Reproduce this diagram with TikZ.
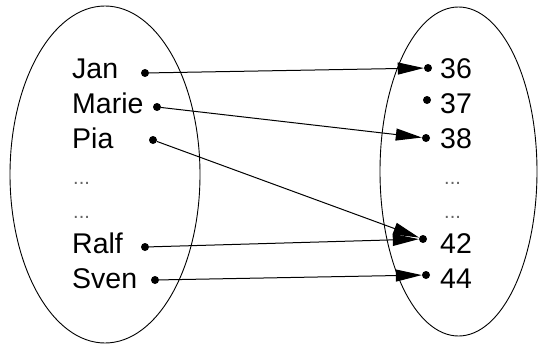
\documentclass[tikz,border=0pt]{standalone}
\usepackage{fontspec}
\setmainfont{Liberation Sans}
\usetikzlibrary{arrows.meta}
\begin{document}
\begin{tikzpicture}[x=1pt,y=-1pt,
  setline/.style={draw=black,line width=0.9pt},
  lbl/.style={anchor=base west,inner sep=0pt,font=\fontsize{28.5}{30}\selectfont,text=black},
  ell/.style={anchor=base west,inner sep=0pt,font=\fontsize{20}{22}\selectfont,text=black!60},
  pt/.style={circle,fill=black,inner sep=0pt,minimum size=8pt},
  mapto/.style={draw=black,line width=1pt,-{Triangle[length=26pt,width=12pt]}}]
\useasboundingbox (0,0) rectangle (538,345);
% sets
\draw[setline] (105,174.5) ellipse [x radius=95,y radius=168.5];
\draw[setline] (458.5,171.5) ellipse [x radius=78.5,y radius=164.5];
% left labels
\node[lbl] (jan) at (72,78) {Jan};
\node[lbl] (marie) at (72,113) {Marie};
\node[lbl] (pia) at (72,148) {Pia};
\node[ell] (ldots1) at (73,184) {...};
\node[ell] (ldots2) at (73,218) {...};
\node[lbl] (ralf) at (72,253) {Ralf};
\node[lbl] (sven) at (72,288) {Sven};
% right labels
\node[lbl] (n36) at (440,78) {36};
\node[lbl] (n37) at (440,113) {37};
\node[lbl] (n38) at (440,148) {38};
\node[ell] (rdots1) at (444,184) {...};
\node[ell] (rdots2) at (444,218) {...};
\node[lbl] (n42) at (440,253) {42};
\node[lbl] (n44) at (440,288) {44};
% points
\node[pt] (pjan) at (145,73) {};
\node[pt] (pmarie) at (157,107) {};
\node[pt] (ppia) at (153,140) {};
\node[pt] (pralf) at (145,247) {};
\node[pt] (psven) at (155,280) {};
\node[pt] (p36) at (428,68) {};
\node[pt] (p37) at (427,100) {};
\node[pt] (p38) at (426,138) {};
\node[pt] (p42) at (423,239) {};
\node[pt] (p44) at (426,275) {};
% mapping
\draw[mapto] (pjan) -- (p36);
\draw[mapto] (pmarie) -- (p38);
\draw[mapto] (ppia) -- (p42);
\draw[mapto] (pralf) -- (p42);
\draw[mapto] (psven) -- (p44);
\end{tikzpicture}
\end{document}
